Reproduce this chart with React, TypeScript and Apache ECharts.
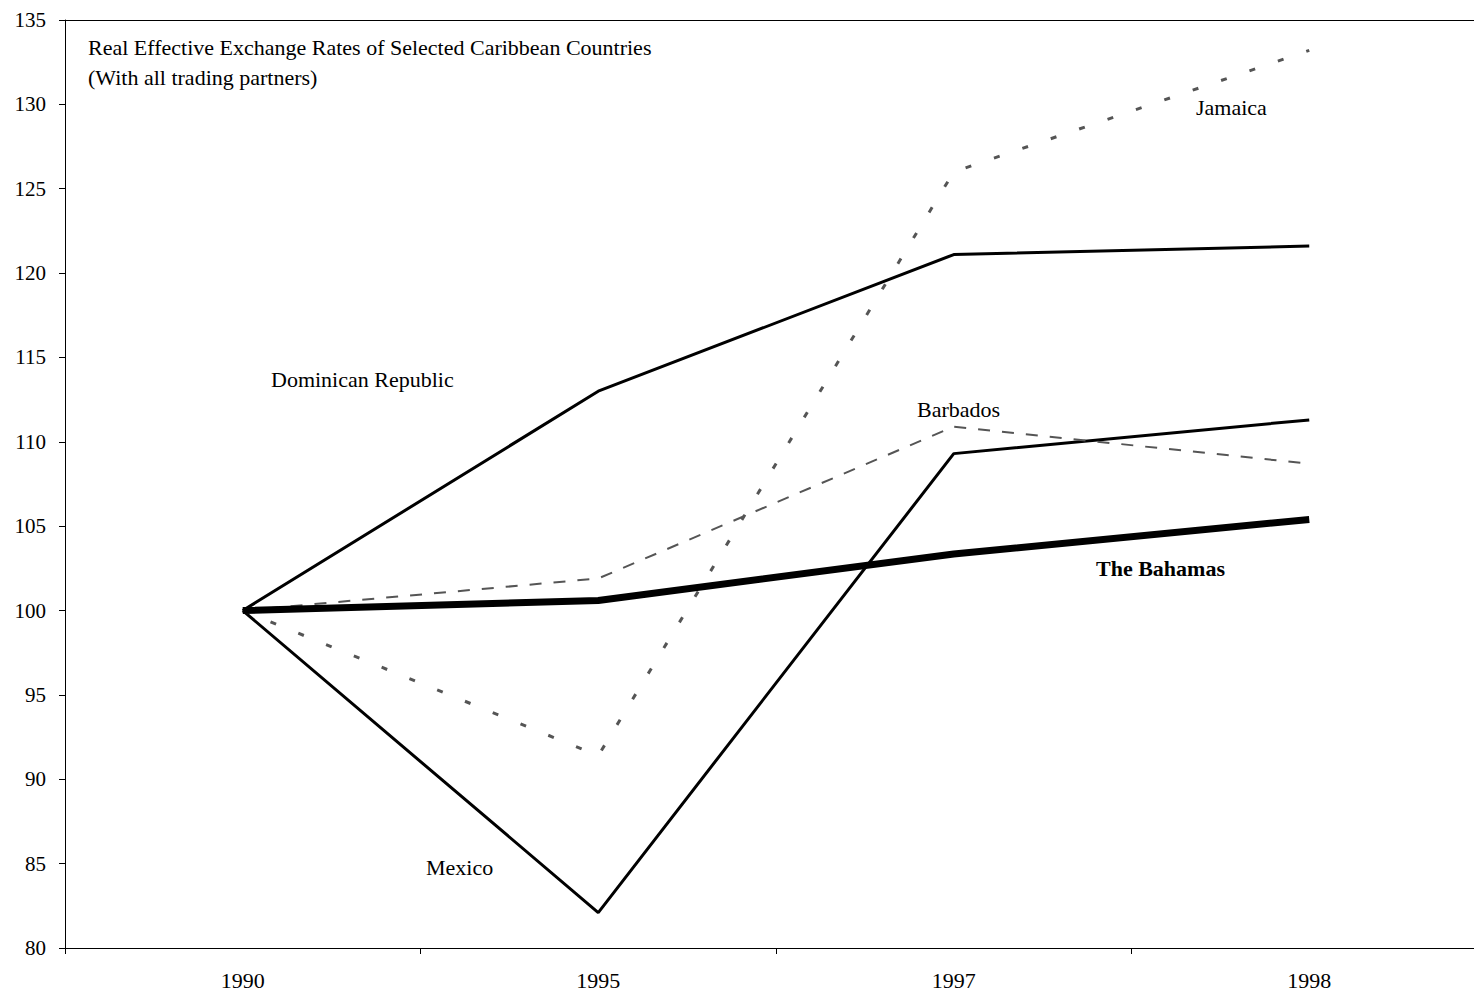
import React, { useEffect, useRef } from "react";
import * as echarts from "echarts";

const years = ["1990", "1995", "1997", "1998"];
const dominicanRepublic = [100, 113.0, 121.1, 121.6];
const mexico = [100, 82.1, 109.3, 111.3];
const jamaica = [100, 91.4, 126.0, 133.2];
const barbados = [100, 101.9, 110.9, 108.7];
const bahamas = [100, 100.6, 103.35, 105.4];

const yTicksMin = 80;
const yTicksMax = 135;
const yTickStep = 5;

const titleLines = [
  "Real Effective Exchange Rates of Selected Caribbean Countries",
  "(With all trading partners)",
];

const FONT = "'Liberation Serif', 'Times New Roman', serif";

export default function App() {
  const ref = useRef<HTMLDivElement>(null);
  useEffect(() => {
    document.body.style.margin = "0";
    const chart = echarts.init(ref.current!, null, { renderer: "svg" });
    const txt = (text: string, x: number, y: number, bold = false) => ({
      type: "text",
      left: x,
      top: y,
      style: {
        text,
        fill: "#000",
        font: `${bold ? "bold " : ""}22px ${FONT}`,
      },
    });
    chart.setOption({
      animation: false,
      backgroundColor: "#fff",
      grid: {
        left: 65,
        right: 0,
        top: 20,
        bottom: 45,
        show: false,
      },
      xAxis: [
        {
          type: "category",
          data: years,
          boundaryGap: true,
          axisLine: { lineStyle: { color: "#000", width: 1 } },
          axisTick: { show: true, length: 6, lineStyle: { color: "#000" } },
          axisLabel: {
            color: "#000",
            fontFamily: FONT,
            fontSize: 22,
            margin: 21,
          },
          splitLine: { show: false },
        },
        {
          type: "category",
          data: years,
          position: "top",
          boundaryGap: true,
          axisLine: { show: true, lineStyle: { color: "#000", width: 1 } },
          axisTick: { show: false },
          axisLabel: { show: false },
          splitLine: { show: false },
        },
      ],
      yAxis: {
        type: "value",
        min: yTicksMin,
        max: yTicksMax,
        interval: yTickStep,
        axisLine: { show: true, lineStyle: { color: "#000", width: 1 } },
        axisTick: { show: true, length: 6, lineStyle: { color: "#000" } },
        axisLabel: {
          color: "#000",
          fontFamily: FONT,
          fontSize: 21,
          margin: 19,
        },
        splitLine: { show: false },
      },
      series: [
        {
          name: "Dominican Republic",
          type: "line",
          data: dominicanRepublic,
          symbol: "none",
          lineStyle: { color: "#000", width: 3 },
        },
        {
          name: "Mexico",
          type: "line",
          data: mexico,
          symbol: "none",
          lineStyle: { color: "#000", width: 3 },
        },
        {
          name: "Jamaica",
          type: "line",
          data: jamaica,
          symbol: "none",
          lineStyle: { color: "#555", width: 3, type: [6, 24] },
        },
        {
          name: "Barbados",
          type: "line",
          data: barbados,
          symbol: "none",
          lineStyle: { color: "#555", width: 2, type: [12, 12] },
        },
        {
          name: "The Bahamas",
          type: "line",
          data: bahamas,
          symbol: "none",
          lineStyle: { color: "#000", width: 7 },
        },
      ],
      graphic: [
        txt(titleLines[0], 88, 36),
        txt(titleLines[1], 88, 66),
        txt("Dominican Republic", 271, 368),
        txt("Mexico", 426, 856),
        txt("Jamaica", 1196, 96),
        txt("Barbados", 917, 398),
        txt("The Bahamas", 1096, 557, true),
      ],
    });
    return () => chart.dispose();
  }, []);
  return (
    <div style={{ width: 1474, height: 993, overflow: "hidden" }}>
      <div ref={ref} style={{ width: 1487, height: 993 }} />
    </div>
  );
}
